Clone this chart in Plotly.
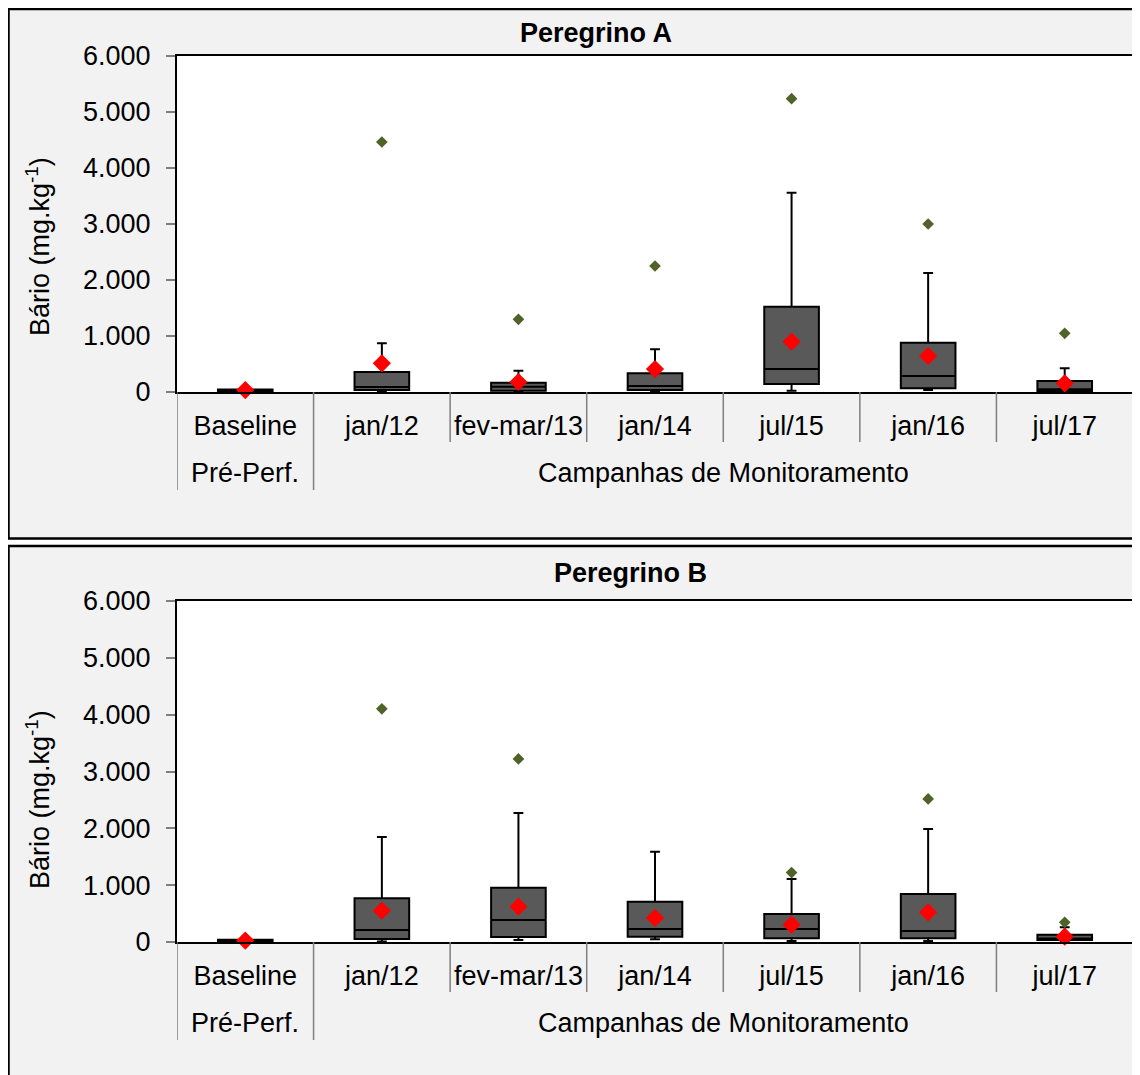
import plotly.graph_objects as go

# page is offset by the default 8px body margin
OFF = 8
W, H = 1140 - OFF, 1075 - OFF


def fx(p):
    return (p - OFF) / W


def fy(p):
    return 1 - (p - OFF) / H


categories = ["Baseline", "jan/12", "fev-mar/13", "jan/14", "jul/15", "jan/16", "jul/17"]
group_labels = ["Pré-Perf.", "Campanhas de Monitoramento"]
y_title = "Bário (mg.kg<sup>-1</sup>)"
y_ticks = [0, 1000, 2000, 3000, 4000, 5000, 6000]

# Peregrino A
a_low = [5, 10, 12, 15, 23, 36, 5]
a_q1 = [10, 36, 22, 36, 143, 66, 12]
a_med = [25, 89, 95, 107, 411, 286, 50]
a_q3 = [45, 357, 166, 333, 1524, 881, 196]
a_high = [50, 870, 380, 762, 3560, 2125, 423]
a_mean = [35, 512, 179, 410, 899, 643, 155]
a_max = [None, 4464, 1298, 2250, 5238, 3000, 1048]

# Peregrino B
b_low = [5, 10, 35, 47, 18, 18, 10]
b_q1 = [10, 53, 88, 94, 65, 65, 35]
b_med = [20, 211, 387, 229, 229, 194, 60]
b_q3 = [40, 769, 956, 710, 493, 845, 129]
b_high = [45, 1849, 2271, 1590, 1109, 1990, 258]
b_mean = [25, 551, 622, 423, 305, 523, 94]
b_max = [None, 4102, 3222, None, 1221, 2518, 347]

FONT = "Liberation Sans, Arial, sans-serif"
FS = 27
BOX_FILL = "#595959"
MEAN_COLOR = "#ff0000"
MAX_COLOR = "#4f6228"
DIV_COLOR = "#7f7f7f"

panels = [
    dict(name="Peregrino A", title_px=(596, 33), top=56, bottom=392, ytitle_px=247,
         frame=(8, 538.5),
         stats=(a_low, a_q1, a_med, a_q3, a_high, a_mean, a_max)),
    dict(name="Peregrino B", title_px=(630, 573), top=601, bottom=942, ytitle_px=800,
         frame=(546, 1100),
         stats=(b_low, b_q1, b_med, b_q3, b_high, b_mean, b_max)),
]

PLOT_L, PLOT_R = 177, 1133

fig = go.Figure()
shapes = []
annotations = []
layout_axes = {}

# white gap between the two framed panels
shapes.append(dict(type="rect", xref="paper", yref="paper", x0=-0.05, x1=1.05,
                   y0=fy(545), y1=fy(540),
                   fillcolor="white", line=dict(width=0), layer="below"))

for i, p in enumerate(panels):
    n = "" if i == 0 else str(i + 1)
    xa, ya = "x" + n, "y" + n
    low, q1, med, q3, high, mean, mx = p["stats"]
    ph = p["bottom"] - p["top"]

    fig.add_trace(go.Box(
        x=categories, q1=q1, median=med, q3=q3, lowerfence=low, upperfence=high,
        fillcolor=BOX_FILL, line=dict(color="black", width=2),
        width=0.4, whiskerwidth=0.18, boxpoints=False,
        xaxis=xa, yaxis=ya, showlegend=False, hoverinfo="skip"))
    mx_x = [c for c, v in zip(categories, mx) if v is not None]
    mx_y = [v for v in mx if v is not None]
    fig.add_trace(go.Scatter(
        x=mx_x, y=mx_y, mode="markers",
        marker=dict(symbol="diamond", size=9, color=MAX_COLOR),
        xaxis=xa, yaxis=ya, showlegend=False, cliponaxis=False))
    fig.add_trace(go.Scatter(
        x=categories, y=mean, mode="markers",
        marker=dict(symbol="diamond", size=14, color=MEAN_COLOR),
        xaxis=xa, yaxis=ya, showlegend=False, cliponaxis=False))

    layout_axes["xaxis" + n] = dict(
        domain=[fx(PLOT_L), min(1.0, fx(PLOT_R))], anchor=ya, type="category",
        categoryorder="array", categoryarray=categories, range=[-0.5, 6.5],
        showline=True, linecolor="black", linewidth=2, mirror=True,
        ticks="", showgrid=False, zeroline=False, automargin=False,
        tickfont=dict(family=FONT, size=FS, color="black"),
        ticklabelstandoff=9)
    layout_axes["yaxis" + n] = dict(
        domain=[fy(p["bottom"]), fy(p["top"])], anchor=xa,
        range=[0, 6000], tickvals=y_ticks, tickformat=",d",
        showline=True, linecolor="black", linewidth=2, mirror=True,
        ticks="outside", ticklen=9, tickcolor="#7f7f7f", tickwidth=1.5,
        showgrid=False, zeroline=False, automargin=False,
        tickfont=dict(family=FONT, size=FS, color="black"),
        ticklabelstandoff=10)

    # frame
    shapes.append(dict(type="rect", xref="paper", yref="paper",
                       x0=fx(8.5), x1=fx(1160),
                       y0=fy(p["frame"][1]), y1=fy(max(p["frame"][0], 9)),
                       line=dict(color="black", width=2.5), fillcolor="rgba(0,0,0,0)"))
    # category dividers
    for k in range(len(categories) + 1):
        b = k - 0.5
        long_line = k in (0, 1, len(categories))
        length = 98 if long_line else 50
        shapes.append(dict(type="line", xref=xa, yref=ya + " domain",
                           x0=b, x1=b, y0=0, y1=-length / ph,
                           line=dict(color=DIV_COLOR, width=1.5)))
    # group labels
    annotations.append(dict(text=group_labels[0], xref=xa, yref=ya + " domain",
                            x=0, y=-81 / ph, showarrow=False, yanchor="middle",
                            font=dict(family=FONT, size=FS, color="black")))
    annotations.append(dict(text=group_labels[1], xref=xa, yref=ya + " domain",
                            x=3.5, y=-81 / ph, showarrow=False, yanchor="middle",
                            font=dict(family=FONT, size=FS, color="black")))
    # panel title
    annotations.append(dict(text="<b>" + p["name"] + "</b>", xref="paper", yref="paper",
                            x=fx(p["title_px"][0]), y=fy(p["title_px"][1]),
                            showarrow=False, xanchor="center", yanchor="middle",
                            font=dict(family=FONT, size=FS, color="black")))
    # y title
    annotations.append(dict(text=y_title, xref="paper", yref="paper",
                            x=fx(38), y=fy(p["ytitle_px"]), textangle=-90,
                            showarrow=False, xanchor="center", yanchor="middle",
                            font=dict(family=FONT, size=FS, color="black")))

fig.update_layout(
    width=W, height=H, margin=dict(l=0, r=0, t=0, b=0, autoexpand=False),
    paper_bgcolor="#f2f2f2", plot_bgcolor="white",
    separators=",.", showlegend=False,
    shapes=shapes, annotations=annotations,
    font=dict(family=FONT, size=FS, color="black"),
    **layout_axes)

fig.write_html("out.html")
